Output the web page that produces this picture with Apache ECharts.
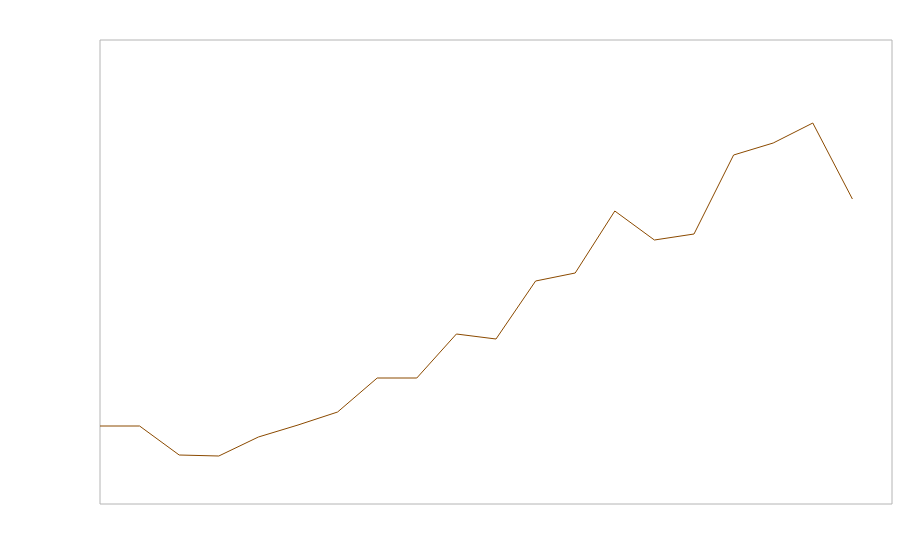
<!DOCTYPE html>
<html><head><meta charset="utf-8">
<script src="https://cdn.jsdelivr.net/npm/echarts@6/dist/echarts.min.js"></script>
<style>html,body{margin:0;padding:0;background:#fff}#c{width:900px;height:560px}</style>
</head><body><div id="c"></div>
<script>
var categories = ['1','2','3','4','5','6','7','8','9','10','11','12','13','14','15','16','17','18','19','20','21'];
var values = [78, 78, 49, 48, 67, 79, 92, 126, 126, 170, 165, 223, 231, 293, 264, 270, 349, 361, 381, 305];
var chart = echarts.init(document.getElementById('c'), null, {renderer: 'canvas'});
chart.setOption({
  animation: false,
  backgroundColor: '#fff',
  grid: {left: 100, top: 40, right: 8, bottom: 56, show: true, borderColor: '#b4b4b4', borderWidth: 1, backgroundColor: 'transparent'},
  xAxis: {type: 'category', data: categories, boundaryGap: false,
    axisLine: {show: false}, axisTick: {show: false}, axisLabel: {show: false}, splitLine: {show: false}},
  yAxis: {type: 'value', min: 0, max: 464,
    axisLine: {show: false}, axisTick: {show: false}, axisLabel: {show: false}, splitLine: {show: false}},
  series: [{type: 'line', data: values, symbol: 'none', lineStyle: {color: '#8b4a00', width: 1}, itemStyle: {color: '#8b4a00'}}]
});
</script></body></html>
